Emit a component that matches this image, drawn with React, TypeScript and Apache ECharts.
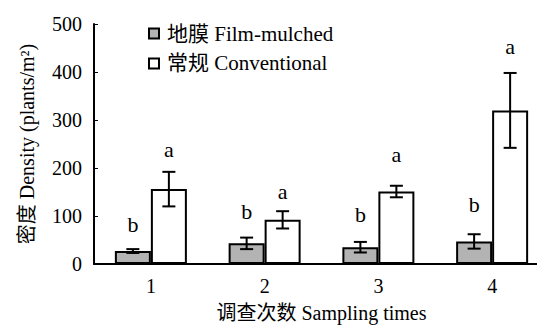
import React, { useEffect, useRef } from "react";
import * as echarts from "echarts";

const categories = ["1", "2", "3", "4"];
const seriesNames = ["地膜 Film-mulched", "常规 Conventional"];
const filmMean = [27, 43, 35, 47];
const filmErr = [4, 12, 11, 15];
const convMean = [156, 92, 151, 320];
const convErr = [36, 18, 12, 78];
const filmLetters = ["b", "b", "b", "b"];
const convLetters = ["a", "a", "a", "a"];
const filmLetterY = [83, 109, 104, 125];
const convLetterY = [238, 152, 229, 453];
const yTicks = [0, 100, 200, 300, 400, 500];

const FONT = "'Liberation Serif', 'Noto Sans CJK SC', serif";
const BAR_W = 36;

function makeErrSeries(means: number[], errs: number[], letters: string[], letterY: number[], side: number) {
  return {
    type: "custom",
    silent: true,
    z: 5,
    data: means.map((m, i) => [i, m, errs[i], letters[i], letterY[i]]),
    renderItem: (params: any, api: any) => {
      const i = api.value(0);
      const m = api.value(1);
      const e = api.value(2);
      const top = api.coord([i, m + e]);
      const bot = api.coord([i, m - e]);
      const lp = api.coord([i, api.value(4)]);
      const x = top[0] + side * (BAR_W / 2);
      const cap = 6.5;
      const ls = { stroke: "#000", lineWidth: 2 };
      return {
        type: "group",
        children: [
          { type: "line", shape: { x1: x, y1: top[1], x2: x, y2: bot[1] }, style: ls },
          { type: "line", shape: { x1: x - cap, y1: top[1], x2: x + cap, y2: top[1] }, style: ls },
          { type: "line", shape: { x1: x - cap, y1: bot[1], x2: x + cap, y2: bot[1] }, style: ls },
          {
            type: "text",
            x: x,
            y: lp[1],
            style: {
              text: letters[i],
              font: `22px ${FONT}`,
              fill: "#000",
              align: "center",
              verticalAlign: "middle",
            },
          },
        ],
      };
    },
  };
}

export default function App() {
  const ref = useRef<HTMLDivElement>(null);
  useEffect(() => {
    if (!ref.current) return;
    const chart = echarts.init(ref.current, null, { renderer: "svg" });
    chart.setOption({
      animation: false,
      backgroundColor: "#fff",
      textStyle: { fontFamily: FONT },
      grid: { left: 94, top: 24, bottom: 61, width: 455, containLabel: false, outerBoundsMode: "none" },
      legend: {
        data: seriesNames,
        orient: "vertical",
        left: 143,
        top: 18,
        itemWidth: 10,
        itemHeight: 10,
        itemGap: 9,
        icon: "rect",
        itemStyle: { borderColor: "#000", borderWidth: 2 },
        textStyle: { fontFamily: FONT, fontSize: 21, color: "#000", padding: [0, 0, 0, 3] },
      },
      xAxis: {
        type: "category",
        data: categories,
        axisLine: { lineStyle: { color: "#000", width: 2 } },
        axisTick: { inside: true, length: 4, lineStyle: { color: "#999" } },
        axisLabel: { fontSize: 20, color: "#000", margin: 12, fontFamily: FONT },
        name: "调查次数 Sampling times",
        nameLocation: "middle",
        nameGap: 39,
        nameTextStyle: { fontSize: 20, color: "#000", fontFamily: FONT },
      },
      yAxis: {
        type: "value",
        min: yTicks[0],
        max: yTicks[yTicks.length - 1],
        interval: 100,
        splitLine: { show: false },
        axisLine: { show: true, lineStyle: { color: "#000", width: 2 } },
        axisTick: { show: true, inside: true, length: 4, lineStyle: { color: "#000" } },
        axisLabel: { fontSize: 20, color: "#000", margin: 12, fontFamily: FONT },
        name: "密度 Density (plants/m²)",
        nameLocation: "middle",
        nameGap: 57,
        nameTextStyle: { fontSize: 20, color: "#000", fontFamily: FONT },
      },
      series: [
        {
          name: seriesNames[0],
          type: "bar",
          data: filmMean,
          barWidth: BAR_W,
          barGap: "0%",
          itemStyle: { color: "#b3b3b3", borderColor: "#000", borderWidth: 2 },
        },
        {
          name: seriesNames[1],
          type: "bar",
          data: convMean,
          barWidth: BAR_W,
          barGap: "0%",
          itemStyle: { color: "#fff", borderColor: "#000", borderWidth: 2 },
        },
        makeErrSeries(filmMean, filmErr, filmLetters, filmLetterY, -1),
        makeErrSeries(convMean, convErr, convLetters, convLetterY, 1),
      ],
    });
    return () => chart.dispose();
  }, []);
  return <div ref={ref} style={{ width: 537, height: 325, position: "absolute", left: 0, top: 0 }} />;
}
